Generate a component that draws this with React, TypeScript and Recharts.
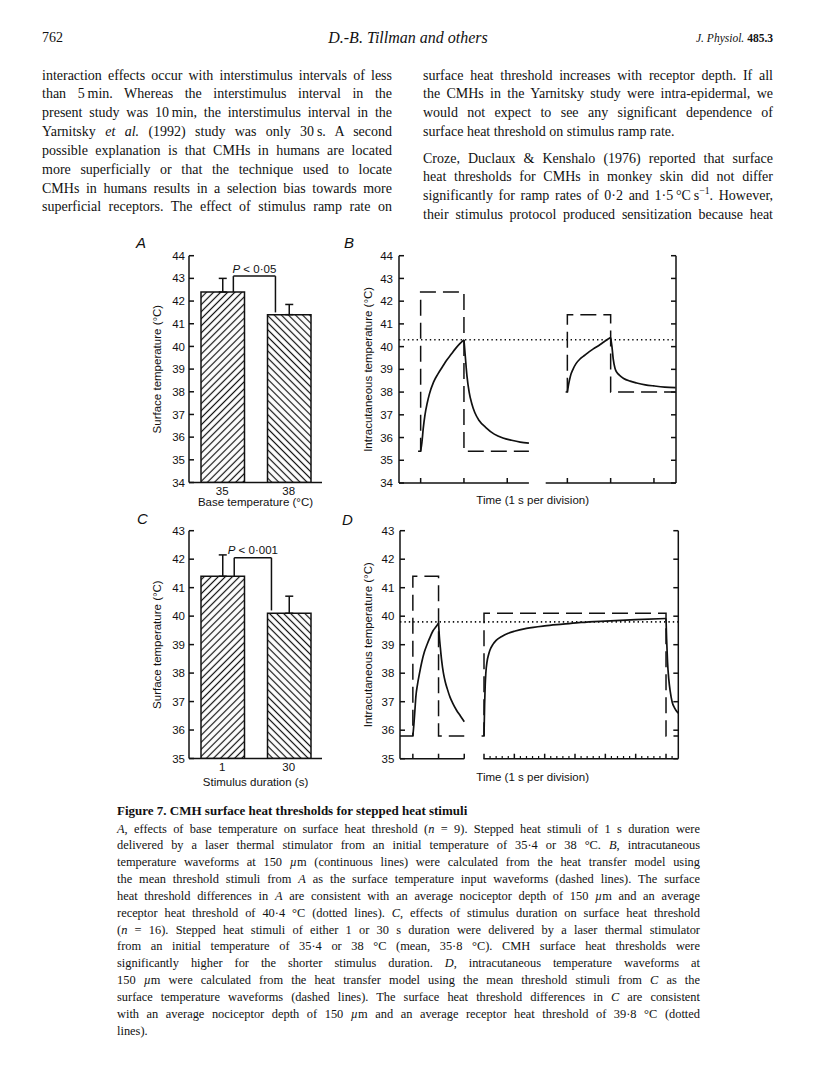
import React from "react";
import {
  BarChart,
  Bar,
  Cell,
  ErrorBar,
  XAxis,
  YAxis,
  LineChart,
  Line,
  ReferenceLine,
  Label,
} from "recharts";

const INK = "#111";
const SANS = "'Liberation Sans', Arial, sans-serif";
const SERIF = "'Liberation Serif', 'Times New Roman', serif";
const THIN = "\u2009";

// ---- A: surface threshold vs base temperature ----
const baseTempCats = ["35", "38"];
const baseTempMeans = [42.4, 41.4];
const baseTempErr = [0.6, 0.45];

// ---- C: surface threshold vs stimulus duration ----
const durationCats = ["1", "30"];
const durationMeans = [41.4, 40.1];
const durationErr = [0.75, 0.6];

const ticksAB = [34, 35, 36, 37, 38, 39, 40, 41, 42, 43, 44];
const ticksCD = [35, 36, 37, 38, 39, 40, 41, 42, 43];

// significance brackets (x in category-slot units, 0..2)
const sigA = { x: [0.667, 1.3], top: 43.1, feet: [42.4, 41.5], p: "0·05" };
const sigC = { x: [0.68, 1.24], top: 42.05, feet: [41.4, 40.2], p: "0·001" };

// ---- B: waveforms at 150 um, 1 s stimuli from 35.4 and 38 °C ----
const bThreshold = 40.3;
const bStimLeft: [number, number][] = [[-0.06, 35.4], [0, 35.4], [0, 42.4], [1, 42.4], [1, 35.4], [2.5, 35.4]];
const bRiseLeft: [number, number][] = [
  [0, 35.4], [0.03, 35.8], [0.06, 36.4], [0.1, 37.0], [0.15, 37.5], [0.2, 37.9], [0.3, 38.45],
  [0.4, 38.8], [0.5, 39.1], [0.6, 39.4], [0.7, 39.65], [0.8, 39.9], [0.9, 40.12], [1.0, 40.3],
];
const bDecayLeft: [number, number][] = [
  [1.0, 40.3], [1.03, 39.6], [1.07, 38.7], [1.12, 38.0], [1.18, 37.5], [1.25, 37.1], [1.35, 36.75],
  [1.5, 36.45], [1.7, 36.15], [1.9, 35.98], [2.1, 35.88], [2.3, 35.8], [2.5, 35.75],
];
const bStimRight: [number, number][] = [[-0.04, 38.0], [0, 38.0], [0, 41.4], [1, 41.4], [1, 38.0], [2.5, 38.0]];
const bRiseRight: [number, number][] = [
  [0, 38.0], [0.03, 38.35], [0.07, 38.7], [0.13, 39.0], [0.2, 39.25], [0.3, 39.47], [0.4, 39.62],
  [0.5, 39.77], [0.6, 39.9], [0.7, 40.02], [0.8, 40.15], [0.9, 40.28], [1.0, 40.4],
];
const bDecayRight: [number, number][] = [
  [1.0, 40.4], [1.03, 40.0], [1.06, 39.45], [1.1, 39.05], [1.15, 38.85], [1.2, 38.75], [1.3, 38.6],
  [1.45, 38.48], [1.6, 38.4], [1.8, 38.32], [2.0, 38.27], [2.25, 38.22], [2.5, 38.2],
];
const bTicksLeft = [0, 1, 2];
const bTicksRight = [0, 1, 2];

// ---- D: waveforms at 150 um, 1 s and 30 s stimuli from 35.8 °C ----
const dThreshold = 39.8;
const dStimLeft: [number, number][] = [[-0.5, 35.8], [0, 35.8], [0, 41.4], [1, 41.4], [1, 35.8], [2, 35.8]];
const dRiseLeft: [number, number][] = [
  [0, 35.8], [0.04, 36.2], [0.08, 36.7], [0.12, 37.2], [0.18, 37.6], [0.26, 38.0], [0.35, 38.4],
  [0.45, 38.75], [0.55, 39.0], [0.65, 39.22], [0.78, 39.48], [0.9, 39.63], [1.0, 39.75],
];
const dDecayLeft: [number, number][] = [
  [1.0, 39.75], [1.03, 39.3], [1.07, 38.9], [1.12, 38.45], [1.19, 38.0], [1.26, 37.7], [1.34, 37.45],
  [1.45, 37.15], [1.55, 36.95], [1.7, 36.7], [1.85, 36.5], [2.0, 36.3],
];
const dStimRight: [number, number][] = [[-0.4, 35.8], [0, 35.8], [0, 40.1], [30, 40.1], [30, 35.8], [32, 35.8]];
const dRiseRight: [number, number][] = [
  [0, 35.8], [0.1, 36.9], [0.2, 37.6], [0.3, 38.0], [0.5, 38.4], [0.75, 38.65], [1, 38.82], [1.5, 39.02],
  [2, 39.15], [3, 39.3], [4, 39.4], [5, 39.47], [7, 39.57], [10, 39.66], [13, 39.72], [16, 39.78],
  [20, 39.83], [25, 39.88], [30, 39.92],
];
const dDecayRight: [number, number][] = [
  [30, 39.92], [30.1, 39.2], [30.25, 38.4], [30.45, 37.8], [30.7, 37.35], [31.0, 37.0], [31.4, 36.78], [32, 36.6],
];
const dTicksLeft = [0, 1, 2];
const dTicksRightMajor = [0, 5, 10, 15, 20, 25, 30];
const dTicksRightMinor = [1, 2, 3, 4, 6, 7, 8, 9, 11, 12, 13, 14, 16, 17, 18, 19, 21, 22, 23, 24, 26, 27, 28, 29, 31];

type Box = { left: number; top: number; w: number; h: number };
type Plot = { x0: number; x1: number; y0: number; y1: number };

// axes of (almost) no thickness still render; 0 makes recharts skip them
const HAIR = 0.01;
// tick marks without tick text (tick={false} would drop the marks as well)
const noText = () => <g />;

function marginFor(box: Box, plot: Plot, yw: number, ywr: number, xh: number) {
  return {
    left: plot.x0 - box.left - yw,
    right: box.left + box.w - plot.x1 - ywr,
    top: plot.y0 - box.top,
    bottom: box.top + box.h - plot.y1 - xh,
  };
}

const vLabel = (text: string, dx: number) => (props: any) => {
  const vb = props.viewBox;
  const cx = vb.x + dx;
  const cy = vb.y + vb.height / 2;
  return (
    <text x={cx} y={cy} transform={`rotate(-90 ${cx} ${cy})`} textAnchor="middle" dominantBaseline="central"
      fill={INK} fontSize={11.5} fontFamily={SANS}>
      {text}
    </text>
  );
};

const hLabel = (text: string, dy: number, dx: number) => (props: any) => {
  const vb = props.viewBox;
  return (
    <text x={vb.x + vb.width / 2 + dx} y={vb.y + dy} textAnchor="middle" dominantBaseline="central"
      fill={INK} fontSize={11.5} fontFamily={SANS}>
      {text}
    </text>
  );
};

const pLabel = (p: string) => (props: any) => {
  const vb = props.viewBox;
  return (
    <text x={vb.x + vb.width / 2} y={vb.y - 3.5} textAnchor="middle" fill={INK} fontSize={11.5} fontFamily={SANS}>
      <tspan fontStyle="italic">P</tspan>
      {` < ${p}`}
    </text>
  );
};

const hatches = ["url(#hatchUp)", "url(#hatchDown)"];
const tickFont = { fill: INK, fontSize: 11.5, fontFamily: SANS };

function BarPanel(props: {
  box: Box; plot: Plot; cats: string[]; means: number[]; errs: number[];
  domain: [number, number]; ticks: number[]; sig: typeof sigA;
  yLabel: string; xLabel: string; xLabelDy: number;
}) {
  const { box, plot, cats, means, errs, domain, ticks, sig, yLabel, xLabel, xLabelDy } = props;
  const rows = cats.map((c, i) => ({ cat: c, slot: i + 0.5, mean: means[i], err: [0, errs[i]] }));
  const yw = 45;
  const xh = 34;
  const line = { stroke: INK, strokeWidth: 1.5 };
  return (
    <div style={{ position: "absolute", left: box.left, top: box.top }}>
      <BarChart width={box.w} height={box.h} data={rows} margin={marginFor(box, plot, yw, 0, xh)} barSize={43.5}>
        <XAxis dataKey="cat" tickLine={false} tickSize={0} tickMargin={4} height={xh} axisLine={line}
          tick={tickFont} label={<Label content={hLabel(xLabel, xLabelDy, 0)} />} />
        <XAxis xAxisId="n" dataKey="slot" type="number" domain={[0, 2]} allowDataOverflow hide />
        <YAxis domain={domain} ticks={ticks} interval={0} allowDataOverflow width={yw} tickSize={-5} tickMargin={9}
          axisLine={line} tickLine={line} tick={tickFont}
          label={<Label content={vLabel(yLabel, 12.7)} />} />
        <Bar dataKey="mean" stroke={INK} strokeWidth={1.5} isAnimationActive={false}>
          {rows.map((r, i) => (
            <Cell key={r.cat} fill={hatches[i]} />
          ))}
          <ErrorBar dataKey="err" width={4} stroke={INK} strokeWidth={1.5} />
        </Bar>
        <ReferenceLine xAxisId="n" segment={[{ x: sig.x[0], y: sig.feet[0] }, { x: sig.x[0], y: sig.top }]} {...line} />
        <ReferenceLine xAxisId="n" segment={[{ x: sig.x[0], y: sig.top }, { x: sig.x[1], y: sig.top }]} {...line}
          label={pLabel(sig.p)} />
        <ReferenceLine xAxisId="n" segment={[{ x: sig.x[1], y: sig.top }, { x: sig.x[1], y: sig.feet[1] }]} {...line} />
      </BarChart>
    </div>
  );
}

type Seg = { from: number; to: number; startPx: number; pps: number; major: number[]; minor?: number[] };
type Trace = { seg: number; pts: [number, number][]; stim: boolean };

function WavePanel(props: {
  box: Box; plot: Plot; domain: [number, number]; ticks: number[]; segs: Seg[]; traces: Trace[];
  threshold: number; yLabelDx: number; timeDx: number; timeDy: number; tickGap: number;
}) {
  const { box, plot, domain, ticks, segs, traces, threshold, yLabelDx, timeDx, timeDy, tickGap } = props;
  const yw = 45;
  const plotW = plot.x1 - plot.x0;
  const line = { stroke: INK, strokeWidth: 1.5 };
  const axes = segs.flatMap((s, i) => {
    const lo = s.from - (s.startPx - plot.x0) / s.pps;
    const dom: [number, number] = [lo, lo + plotW / s.pps];
    const list = [
      <XAxis key={`s${i}`} xAxisId={`s${i}`} type="number" dataKey="t" domain={dom} allowDataOverflow
        ticks={s.major} interval={0} tick={noText} tickSize={-5} axisLine={false} height={HAIR} tickLine={line}
        label={i === 0 ? <Label content={hLabel("Time (1 s per division)", timeDy, timeDx)} /> : undefined} />,
    ];
    if (s.minor) {
      list.push(
        <XAxis key={`m${i}`} xAxisId={`m${i}`} type="number" dataKey="t" domain={dom} allowDataOverflow
          ticks={s.minor} interval={0} tick={noText} tickSize={-2.7} axisLine={false} height={HAIR}
          tickLine={{ stroke: INK, strokeWidth: 1.2 }} />
      );
    }
    return list;
  });
  return (
    <div style={{ position: "absolute", left: box.left, top: box.top }}>
      <LineChart width={box.w} height={box.h} margin={marginFor(box, plot, yw, HAIR, axes.length * HAIR)}>
        {axes}
        <YAxis domain={domain} ticks={ticks} interval={0} allowDataOverflow width={yw} tickSize={-5}
          tickMargin={5 + tickGap} axisLine={line} tickLine={line} tick={tickFont}
          label={<Label content={vLabel("Intracutaneous temperature (°C)", yLabelDx)} />} />
        <YAxis yAxisId="r" orientation="right" domain={domain} ticks={ticks} interval={0} allowDataOverflow
          width={HAIR} tick={noText} tickSize={-5} axisLine={line} tickLine={line} />
        {segs.map((s, i) => (
          <ReferenceLine key={`ax${i}`} xAxisId={`s${i}`} segment={[{ x: s.from, y: domain[0] }, { x: s.to, y: domain[0] }]}
            ifOverflow="visible" {...line} />
        ))}
        <ReferenceLine xAxisId="s0" y={threshold} stroke={INK} strokeWidth={1.6} strokeDasharray="1.4 3" />
        {traces.map((tr, i) => (
          <Line key={`tr${i}`} xAxisId={`s${tr.seg}`} data={tr.pts.map(([t, v]) => ({ t, v }))} dataKey="v"
            type={tr.stim ? "linear" : "monotone"} stroke={INK} strokeWidth={tr.stim ? 1.5 : 1.7}
            strokeDasharray={tr.stim ? "16 7" : undefined} dot={false} activeDot={false}
            isAnimationActive={false} />
        ))}
      </LineChart>
    </div>
  );
}

const I = ({ children }: { children: React.ReactNode }) => <i>{children}</i>;

function TextLine(props: { x: number; y: number; w: number; size: number; lh: number; last?: boolean; children: React.ReactNode }) {
  const { x, y, w, size, lh, last, children } = props;
  return (
    <div style={{
      position: "absolute", left: x, top: y - lh / 2, width: w, height: lh, lineHeight: `${lh}px`,
      fontSize: size, whiteSpace: "nowrap", textAlign: last ? "left" : "justify",
      textAlignLast: last ? "left" : "justify",
    }}>
      {children}
    </div>
  );
}

const leftColumn: React.ReactNode[] = [
  "interaction effects occur with interstimulus intervals of less",
  `than 5${THIN}min. Whereas the interstimulus interval in the`,
  `present study was 10${THIN}min, the interstimulus interval in the`,
  <>Yarnitsky <I>et al.</I> (1992) study was only 30{THIN}s. A second</>,
  "possible explanation is that CMHs in humans are located",
  "more superficially or that the technique used to locate",
  "CMHs in humans results in a selection bias towards more",
  "superficial receptors. The effect of stimulus ramp rate on",
];
const rightPara1: React.ReactNode[] = [
  "surface heat threshold increases with receptor depth. If all",
  "the CMHs in the Yarnitsky study were intra-epidermal, we",
  "would not expect to see any significant dependence of",
  "surface heat threshold on stimulus ramp rate.",
];
const rightPara2: React.ReactNode[] = [
  "Croze, Duclaux & Kenshalo (1976) reported that surface",
  "heat thresholds for CMHs in monkey skin did not differ",
  <>significantly for ramp rates of 0·2 and 1·5{THIN}°C{THIN}s<sup style={{ fontSize: "0.7em", lineHeight: 0 }}>−1</sup>. However,</>,
  "their stimulus protocol produced sensitization because heat",
];

const captionLines: React.ReactNode[] = [
  <><I>A</I>, effects of base temperature on surface heat threshold (<I>n</I> = 9). Stepped heat stimuli of 1 s duration were</>,
  <>delivered by a laser thermal stimulator from an initial temperature of 35·4 or 38 °C. <I>B</I>, intracutaneous</>,
  <>temperature waveforms at 150 <I>µ</I>m (continuous lines) were calculated from the heat transfer model using</>,
  <>the mean threshold stimuli from <I>A</I> as the surface temperature input waveforms (dashed lines). The surface</>,
  <>heat threshold differences in <I>A</I> are consistent with an average nociceptor depth of 150 <I>µ</I>m and an average</>,
  <>receptor heat threshold of 40·4 °C (dotted lines). <I>C</I>, effects of stimulus duration on surface heat threshold</>,
  <>(<I>n</I> = 16). Stepped heat stimuli of either 1 or 30 s duration were delivered by a laser thermal stimulator</>,
  <>from an initial temperature of 35·4 or 38 °C (mean, 35·8 °C). CMH surface heat thresholds were</>,
  <>significantly higher for the shorter stimulus duration. <I>D</I>, intracutaneous temperature waveforms at</>,
  <>150 <I>µ</I>m were calculated from the heat transfer model using the mean threshold stimuli from <I>C</I> as the</>,
  <>surface temperature waveforms (dashed lines). The surface heat threshold differences in <I>C</I> are consistent</>,
  <>with an average nociceptor depth of 150 <I>µ</I>m and an average receptor heat threshold of 39·8 °C (dotted</>,
  <>lines).</>,
];

const panelLetters: [string, number, number][] = [["A", 142, 243], ["B", 350, 243], ["C", 143, 519], ["D", 348, 520]];

function Patterns() {
  return (
    <svg width={0} height={0} style={{ position: "absolute" }}>
      <defs>
        <pattern id="hatchUp" patternUnits="userSpaceOnUse" width={5} height={5} patternTransform="rotate(45)">
          <line x1={2.5} y1={-1} x2={2.5} y2={6} stroke={INK} strokeWidth={1.2} />
        </pattern>
        <pattern id="hatchDown" patternUnits="userSpaceOnUse" width={5} height={5} patternTransform="rotate(-45)">
          <line x1={2.5} y1={-1} x2={2.5} y2={6} stroke={INK} strokeWidth={1.2} />
        </pattern>
      </defs>
    </svg>
  );
}

export default function App() {
  const lh = 19;
  const step = 18.85;
  return (
    <div style={{ position: "absolute", left: 0, top: 0, width: 816, height: 1088, background: "#fff", color: INK, fontFamily: SERIF, overflow: "hidden" }}>
      <Patterns />

      {/* running head */}
      <div style={{ position: "absolute", left: 42, top: 29, fontSize: 14, lineHeight: "18px" }}>762</div>
      <div style={{ position: "absolute", left: 258, width: 300, top: 28, fontSize: 16, lineHeight: "20px", textAlign: "center", fontStyle: "italic" }}>
        D.-B. Tillman and others
      </div>
      <div style={{ position: "absolute", left: 573, width: 200, top: 30, fontSize: 11.5, lineHeight: "16px", textAlign: "right" }}>
        <i>J. Physiol.</i> <b>485.3</b>
      </div>

      {/* body text */}
      {leftColumn.map((t, i) => (
        <TextLine key={`l${i}`} x={42} y={75 + i * step} w={350} size={14} lh={lh}>{t}</TextLine>
      ))}
      {rightPara1.map((t, i) => (
        <TextLine key={`r${i}`} x={423} y={75 + i * step} w={350} size={14} lh={lh} last={i === rightPara1.length - 1}>{t}</TextLine>
      ))}
      {rightPara2.map((t, i) => (
        <TextLine key={`q${i}`} x={423} y={158 + i * step} w={350} size={14} lh={lh}>{t}</TextLine>
      ))}

      {/* panel letters */}
      {panelLetters.map(([l, x, y]) => (
        <div key={l} style={{ position: "absolute", left: x - 6, top: y - 9, fontSize: 15, lineHeight: "18px", fontStyle: "italic", fontFamily: SANS }}>{l}</div>
      ))}

      <BarPanel box={{ left: 130, top: 245, w: 205, h: 275 }} plot={{ x0: 189, x1: 322, y0: 255.7, y1: 482.5 }}
        cats={baseTempCats} means={baseTempMeans} errs={baseTempErr} domain={[34, 44]} ticks={ticksAB} sig={sigA}
        yLabel="Surface temperature (°C)" xLabel="Base temperature (°C)" xLabelDy={19.5} />

      <WavePanel box={{ left: 340, top: 245, w: 350, h: 270 }} plot={{ x0: 399, x1: 676, y0: 255.7, y1: 483 }}
        domain={[34, 44]} ticks={ticksAB} threshold={bThreshold} yLabelDx={14.3} timeDx={-4.8} timeDy={17} tickGap={6}
        segs={[
          { from: -0.5, to: 2.5, startPx: 399, pps: 43.3, major: bTicksLeft },
          { from: -0.5, to: 2.5, startPx: 545.7, pps: 43.3, major: bTicksRight },
        ]}
        traces={[
          { seg: 0, pts: bStimLeft, stim: true },
          { seg: 0, pts: bRiseLeft, stim: false },
          { seg: 0, pts: bDecayLeft, stim: false },
          { seg: 1, pts: bStimRight, stim: true },
          { seg: 1, pts: bRiseRight, stim: false },
          { seg: 1, pts: bDecayRight, stim: false },
        ]} />

      <BarPanel box={{ left: 130, top: 520, w: 205, h: 280 }} plot={{ x0: 189, x1: 322, y0: 530.7, y1: 758.5 }}
        cats={durationCats} means={durationMeans} errs={durationErr} domain={[35, 43]} ticks={ticksCD} sig={sigC}
        yLabel="Surface temperature (°C)" xLabel="Stimulus duration (s)" xLabelDy={23} />

      <WavePanel box={{ left: 340, top: 520, w: 350, h: 275 }} plot={{ x0: 400, x1: 678.3, y0: 530.7, y1: 758.7 }}
        domain={[35, 43]} ticks={ticksCD} threshold={dThreshold} yLabelDx={13.3} timeDx={-6.5} timeDy={18} tickGap={5.7}
        segs={[
          { from: -0.5, to: 2.0, startPx: 400, pps: 25.7, major: dTicksLeft },
          { from: -0.1, to: 32.0, startPx: 483.4, pps: 6.067, major: dTicksRightMajor, minor: dTicksRightMinor },
        ]}
        traces={[
          { seg: 0, pts: dStimLeft, stim: true },
          { seg: 0, pts: dRiseLeft, stim: false },
          { seg: 0, pts: dDecayLeft, stim: false },
          { seg: 1, pts: dStimRight, stim: true },
          { seg: 1, pts: dRiseRight, stim: false },
          { seg: 1, pts: dDecayRight, stim: false },
        ]} />

      {/* caption */}
      <div style={{ position: "absolute", left: 117, top: 802, fontSize: 13, lineHeight: "18px", fontWeight: "bold" }}>
        Figure 7. CMH surface heat thresholds for stepped heat stimuli
      </div>
      {captionLines.map((t, i) => (
        <TextLine key={`c${i}`} x={117} y={829 + i * 16.85} w={583} size={12.4} lh={17} last={i === captionLines.length - 1}>{t}</TextLine>
      ))}
    </div>
  );
}
